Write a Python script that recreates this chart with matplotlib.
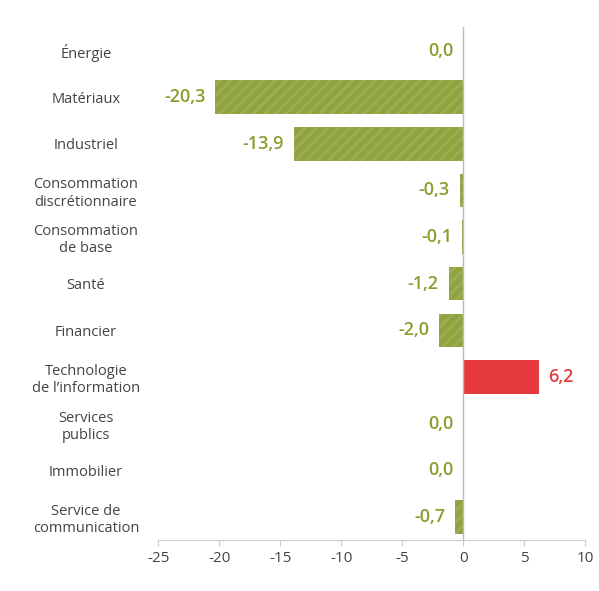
import matplotlib.pyplot as plt
import matplotlib as mpl

categories = ['Énergie', 'Matériaux', 'Industriel', 'Consommation\ndiscrétionnaire',
              'Consommation\nde base', 'Santé', 'Financier',
              'Technologie\nde l’information', 'Services\npublics', 'Immobilier',
              'Service de\ncommunication']
values = [0.0, -20.3, -13.9, -0.3, -0.1, -1.2, -2.0, 6.2, 0.0, 0.0, -0.7]

green = '#8fa340'
label_green = '#8a9e2e'
red = '#e63a3f'
mpl.rcParams['hatch.color'] = '#9cae52'
mpl.rcParams['hatch.linewidth'] = 2.0
mpl.rcParams['axes.unicode_minus'] = False
plt.rcParams['font.family'] = ['Open Sans', 'DejaVu Sans']

fig = plt.figure(figsize=(5.99, 5.91), dpi=100)
ax = fig.add_axes([0.264, 0.086, 0.713, 0.868])

ys = list(range(len(categories)))
for y, v in zip(ys, values):
    c = red if v > 0 else green
    if v != 0:
        ax.barh(y, v, height=0.72, color=c, hatch='///' if v < 0 else None,
                linewidth=0)
    lab = f'{v:.1f}'.replace('.', ',')
    if v > 0:
        ax.text(v + 0.8, y, lab, color=red, fontsize=13, fontweight='semibold',
                va='center', ha='left')
    else:
        ax.text(v - 0.8, y, lab, color=label_green, fontsize=13, fontweight='semibold',
                va='center', ha='right')

ax.set_ylim(len(categories) - 0.5, -0.5)
ax.set_xlim(-25, 10)
ax.set_xticks(range(-25, 11, 5))
ax.set_yticks(ys)
ax.set_yticklabels(categories, fontsize=10.5, color='#444444', ha='center')
ax.tick_params(axis='y', length=0, pad=52)
ax.tick_params(axis='x', length=4, colors='#cccccc', labelcolor='#444444', labelsize=11)
ax.axvline(0, color='#bbbbbb', lw=1)
for s in ['top', 'right', 'left']:
    ax.spines[s].set_visible(False)
ax.spines['bottom'].set_color('#cccccc')

fig.savefig('out.png', dpi=100)
